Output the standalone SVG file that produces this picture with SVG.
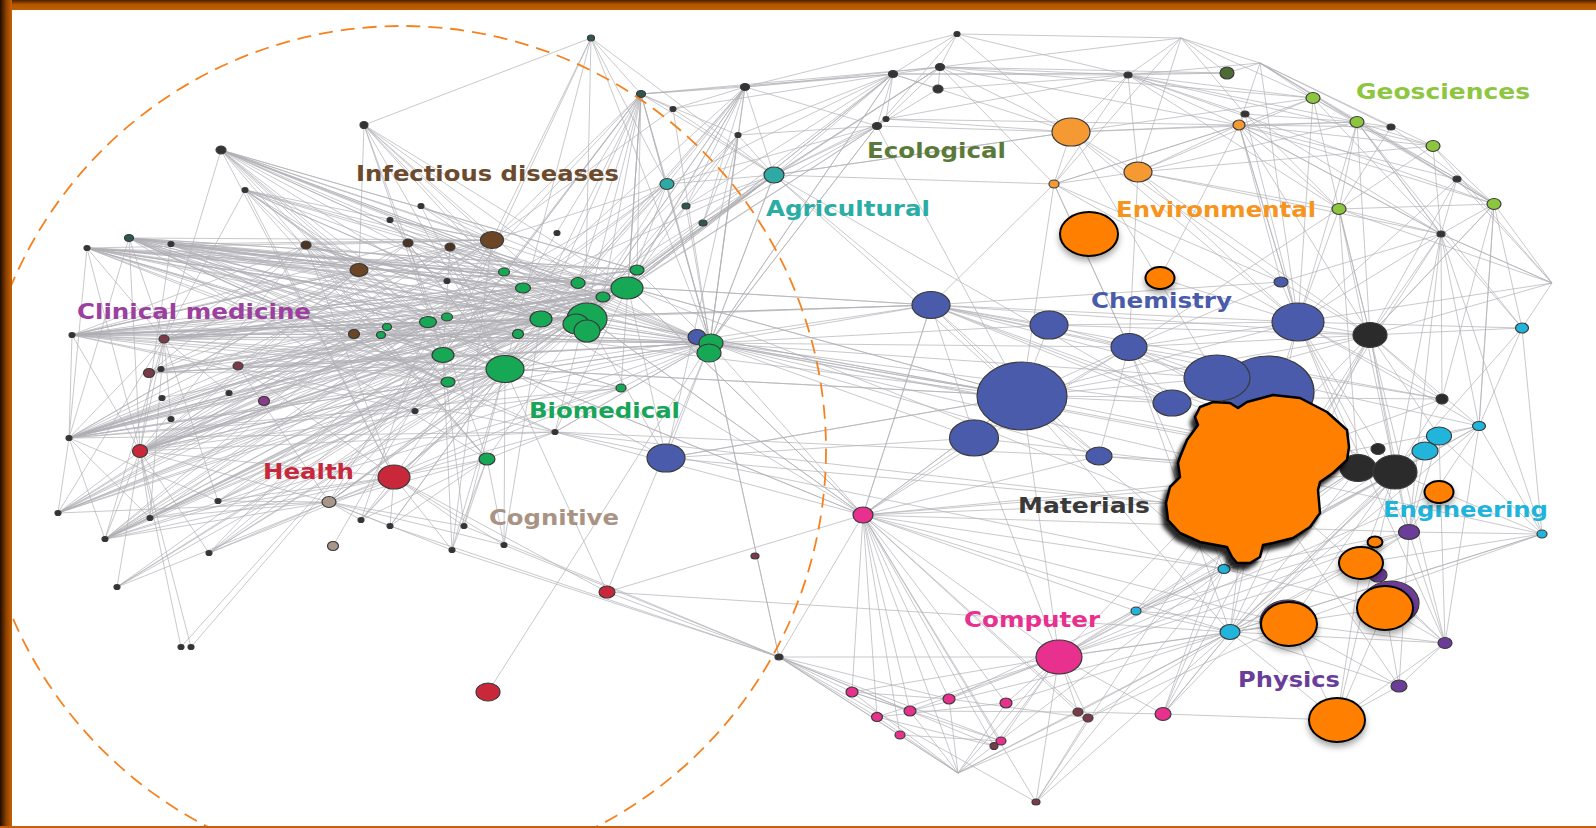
<svg xmlns="http://www.w3.org/2000/svg" width="1596" height="828" viewBox="0 0 1596 828">
<defs>
<linearGradient id="tg" x1="0" y1="0" x2="0" y2="1"><stop offset="0" stop-color="#4a2000"/><stop offset="0.45" stop-color="#b45500"/><stop offset="1" stop-color="#c25e00"/></linearGradient>
<linearGradient id="lg" x1="0" y1="0" x2="1" y2="0"><stop offset="0" stop-color="#1e0c00"/><stop offset="0.5" stop-color="#8a3f00"/><stop offset="1" stop-color="#c86200"/></linearGradient>
<filter id="sh" x="-40%" y="-40%" width="180%" height="190%"><feDropShadow dx="0" dy="4" stdDeviation="3" flood-color="#000" flood-opacity="0.35"/></filter>
<filter id="bsh" x="-20%" y="-20%" width="140%" height="140%"><feDropShadow dx="-4" dy="6" stdDeviation="2" flood-color="#000" flood-opacity="0.85"/></filter>
<style>
.e{fill:none;stroke:#aeaeb4;stroke-width:0.9;opacity:0.75}
ellipse{stroke:#3a3a3a;stroke-width:1.2}
.k{fill:#343434}.dt{fill:#2e5752}.br{fill:#6b4526}.bd{fill:#4a3424}.g{fill:#17a856}.b{fill:#4a5bab}
.r{fill:#c8283a}.m{fill:#e8308e}.c{fill:#22b5dc}.p{fill:#6c3d98}.lg{fill:#8cc63f}.dg{fill:#4d6b36}
.lo{fill:#f59a33}.bk{fill:#2b2b2b}.t{fill:#2ea9a3}.tp{fill:#a8968a}.pr{fill:#7a3a4a}.pu{fill:#8a3a8a}
.o{fill:#ff8000;stroke:#000;stroke-width:2;filter:url(#sh)}
text{font-family:"DejaVu Sans","Liberation Sans",sans-serif;font-weight:bold;font-size:21px}
</style>
</defs>
<rect width="1596" height="828" fill="#fff"/>
<g id="connectors">
<path class="e" d="M505 369 221 150M505 369 245 190M505 369 129 238M505 369 87 248M505 369 171 244M505 369 306 245M505 369 72 335M505 369 164 339M505 369 149 373M505 369 238 366M505 369 69 438M505 369 140 451M505 369 58 513M505 369 105 539M505 369 117 587M505 369 209 553M505 369 150 518M505 369 218 501M505 369 329 502M505 369 361 520M505 369 390 526M505 369 452 550M505 369 504 545M505 369 464 526M505 369 591 38M505 369 364 125M505 369 774 175M505 369 666 458M505 369 863 515M505 369 607 592M505 369 421 206M505 369 390 220"/>
<path class="e" d="M585 316 364 125M585 316 221 150M585 316 129 238M585 316 87 248M585 316 171 244M585 316 306 245M585 316 72 335M585 316 164 339M585 316 149 373M585 316 162 398M585 316 69 438M585 316 140 451M585 316 58 513M585 316 105 539M585 316 218 501M585 316 329 502M585 316 394 477M585 316 487 459M585 316 555 432M585 316 591 38M585 316 641 94M585 316 745 87M585 316 774 175M585 316 686 206M585 316 703 223M585 316 863 515M585 316 931 305M585 316 1022 396M585 316 666 458M585 316 421 206M585 316 245 190"/>
<path class="e" d="M492 240 364 125M492 240 221 150M492 240 245 190M492 240 129 238M492 240 87 248M492 240 171 244M492 240 306 245M492 240 72 335M492 240 164 339M492 240 149 373M492 240 140 451M492 240 105 539M492 240 58 513M492 240 329 502M492 240 452 550M492 240 591 38M492 240 641 94M492 240 673 109M492 240 421 206M492 240 390 220"/>
<path class="e" d="M628 287 221 150M628 287 171 244M628 287 129 238M628 287 87 248M628 287 72 335M628 287 164 339M628 287 238 366M628 287 149 373M628 287 69 438M628 287 140 451M628 287 105 539M628 287 209 553M628 287 329 502M628 287 394 477M628 287 641 94M628 287 745 87M628 287 877 126M628 287 893 74M628 287 774 175M628 287 931 305M628 287 666 458M628 287 863 515M628 287 364 125M628 287 1022 396"/>
<path class="e" d="M541 319 245 190M541 319 129 238M541 319 306 245M541 319 72 335M541 319 164 339M541 319 238 366M541 319 161 369M541 319 229 393M541 319 69 438M541 319 58 513M541 319 150 518M541 319 117 587M541 319 218 501M541 319 361 520M541 319 390 526M541 319 504 545M541 319 221 150M541 319 87 248"/>
<path class="e" d="M443 355 364 125M443 355 221 150M443 355 87 248M443 355 129 238M443 355 72 335M443 355 149 373M443 355 69 438M443 355 140 451M443 355 58 513M443 355 105 539M443 355 117 587M443 355 181 647M443 355 191 647M443 355 209 553M443 355 333 546M443 355 464 526M443 355 452 550M443 355 591 38M443 355 641 94"/>
<path class="e" d="M428 322 221 150M428 322 245 190M428 322 171 244M428 322 87 248M428 322 72 335M428 322 164 339M428 322 140 451M428 322 58 513M428 322 105 539M428 322 150 518M428 322 209 553M428 322 361 520M428 322 667 184"/>
<path class="e" d="M523 288 87 248M523 288 129 238M523 288 171 244M523 288 72 335M523 288 69 438M523 288 140 451M523 288 58 513M523 288 105 539M523 288 164 339M523 288 149 373M523 288 238 366M523 288 218 501M523 288 329 502M523 288 394 477M523 288 710 343M523 288 667 184M523 288 774 175M523 288 641 94M523 288 745 87M523 288 221 150M523 288 364 125"/>
<path class="e" d="M603 297 129 238M603 297 87 248M603 297 72 335M603 297 69 438M603 297 140 451M603 297 105 539M603 297 164 339M603 297 238 366M603 297 329 502M603 297 394 477M603 297 710 343M603 297 774 175M603 297 641 94M603 297 703 223M603 297 686 206M603 297 221 150M603 297 171 244"/>
<path class="e" d="M518 334 72 335M518 334 87 248M518 334 129 238M518 334 69 438M518 334 140 451M518 334 58 513M518 334 150 518M518 334 209 553M518 334 105 539M518 334 710 343M518 334 1022 396M578 283 87 248M578 283 129 238M578 283 72 335M578 283 69 438M578 283 140 451M578 283 105 539M578 283 164 339M578 283 149 373M578 283 710 343M578 283 745 87M578 283 641 94M578 283 221 150M578 283 245 190"/>
<path class="e" d="M504 272 87 248M504 272 129 238M504 272 171 244M504 272 72 335M504 272 69 438M504 272 140 451M504 272 58 513M504 272 164 339M504 272 710 343M504 272 641 94M504 272 221 150M637 270 129 238M637 270 87 248M637 270 72 335M637 270 140 451M637 270 164 339M637 270 710 343M637 270 745 87M637 270 641 94M637 270 893 74M637 270 221 150"/>
<path class="e" d="M448 382 72 335M448 382 87 248M448 382 129 238M448 382 69 438M448 382 140 451M448 382 58 513M448 382 105 539M448 382 117 587M448 382 710 343M448 382 628 287M448 382 221 150M448 382 245 190M621 388 72 335M621 388 129 238M621 388 69 438M621 388 140 451M621 388 105 539M621 388 209 553M621 388 710 343M621 388 641 94"/>
<path class="e" d="M447 317 72 335M447 317 87 248M447 317 129 238M447 317 69 438M447 317 140 451M447 317 105 539M447 317 710 343M447 317 628 287M354 334 72 335M354 334 87 248M354 334 129 238M354 334 69 438M354 334 140 451M354 334 58 513M354 334 105 539M354 334 710 343M354 334 628 287M354 334 585 316"/>
<path class="e" d="M408 243 710 343M408 243 628 287M408 243 585 316M408 243 541 319M408 243 505 369M408 243 443 355M408 243 72 335M408 243 69 438M408 243 140 451M450 247 710 343M450 247 628 287M450 247 585 316M450 247 541 319M450 247 505 369M450 247 443 355M450 247 72 335M450 247 69 438M450 247 140 451"/>
<path class="e" d="M306 245 585 316M306 245 628 287M306 245 710 343M306 245 541 319M306 245 443 355M306 245 72 335M306 245 149 373M387 327 710 343M387 327 628 287M387 327 585 316M387 327 72 335M387 327 69 438M387 327 140 451M555 432 72 335M555 432 69 438M555 432 140 451M555 432 129 238M555 432 87 248M555 432 628 287M555 432 710 343M415 411 628 287M415 411 710 343M415 411 585 316M415 411 72 335M415 411 69 438"/>
<path class="e" d="M221 150 637 270M221 150 578 283M221 150 603 297M221 150 518 334M245 190 628 287M245 190 603 297M245 190 541 319M245 190 447 317M171 244 628 287M171 244 541 319M171 244 443 355M171 244 448 382M129 238 637 270M129 238 448 382M129 238 621 388M87 248 443 355M87 248 710 343M72 335 637 270M72 335 541 319M72 335 428 322M69 438 628 287M69 438 541 319M69 438 428 322M140 451 541 319M140 451 603 297M164 339 603 297M164 339 518 334M238 366 585 316M238 366 710 343M149 373 603 297M149 373 710 343M381 335 710 343M381 335 585 316M381 335 129 238M381 335 69 438M421 206 628 287M390 220 603 297M364 125 541 319M364 125 603 297"/>
<path class="e" d="M710 343 591 38M710 343 641 94M710 343 673 109M710 343 745 87M710 343 738 135M710 343 877 126M710 343 893 74M710 343 774 175M710 343 686 206M710 343 221 150M710 343 129 238M710 343 72 335M710 343 87 248M710 343 164 339M710 343 149 373M710 343 69 438M710 343 140 451M710 343 105 539M710 343 329 502M710 343 555 432M710 343 666 458M710 343 863 515M710 343 931 305M710 343 1022 396M710 343 1172 403M710 343 1217 378M710 343 1129 347M710 343 975 438M710 343 607 592M710 343 779 657M710 343 1358 468M710 343 1395 472M710 343 1099 456M710 343 1049 325M710 343 1250 470M710 343 488 692"/>
<path class="e" d="M359 270 221 150M359 270 245 190M359 270 364 125M359 270 129 238M359 270 87 248M359 270 171 244M359 270 306 245M359 270 72 335M359 270 164 339M359 270 149 373M359 270 238 366M359 270 140 451M359 270 69 438"/>
<path class="e" d="M164 339 87 248M164 339 129 238M164 339 72 335M164 339 69 438M164 339 140 451M164 339 58 513M164 339 105 539M164 339 150 518M164 339 218 501M164 339 229 393M164 339 171 419M164 339 245 190M164 339 221 150M164 339 306 245"/>
<path class="e" d="M69 438 129 238M69 438 87 248M69 438 72 335M69 438 58 513M69 438 105 539M69 438 150 518M69 438 218 501M69 438 238 366"/>
<path class="e" d="M140 451 87 248M140 451 129 238M140 451 171 244M140 451 72 335M140 451 58 513M140 451 105 539M140 451 117 587M140 451 150 518M140 451 209 553M140 451 191 647M140 451 181 647M140 451 229 393M140 451 329 502M140 451 394 477M140 451 306 245"/>
<path class="e" d="M394 477 306 245M394 477 245 190M394 477 238 366M394 477 329 502M394 477 361 520M394 477 390 526M394 477 464 526M394 477 452 550M394 477 504 545M394 477 487 459M394 477 218 501M394 477 150 518M394 477 105 539M394 477 555 432M394 477 607 592M394 477 221 150"/>
<path class="e" d="M487 459 504 545M487 459 464 526M487 459 452 550M487 459 390 526M487 459 361 520M487 459 329 502M487 459 555 432M487 459 306 245M487 459 245 190M487 459 221 150M487 459 364 125M487 459 129 238"/>
<path class="e" d="M329 502 209 553M329 502 150 518M329 502 105 539M329 502 58 513M329 502 218 501M329 502 361 520M329 502 390 526M329 502 452 550M329 502 464 526M329 502 504 545M329 502 117 587M329 502 238 366M591 38 364 125M591 38 641 94"/>
<path class="e" d="M779 657 607 592M779 657 452 550M779 657 504 545M779 657 464 526M779 657 390 526M779 657 863 515M779 657 710 343M779 657 852 692M779 657 877 717M779 657 900 735M779 657 910 711M779 657 949 699M779 657 1001 741M779 657 994 746M779 657 958 773M779 657 1036 802M779 657 1059 657"/>
<path class="e" d="M863 515 852 692M863 515 877 717M863 515 910 711M863 515 949 699M863 515 1006 703M863 515 900 735M863 515 1001 741M863 515 994 746M863 515 1078 712M863 515 1088 718M863 515 958 773M863 515 1059 657M863 515 1036 802M863 515 555 432M863 515 505 369M863 515 628 287M863 515 585 316M863 515 541 319M863 515 607 592M863 515 1022 396M863 515 975 438M863 515 931 305M863 515 1170 503M863 515 1230 632M863 515 1224 569M863 515 1136 611M863 515 1289 624M863 515 1358 468M863 515 1395 472M863 515 1409 532M863 515 1099 456M863 515 1129 347"/>
<path class="e" d="M1059 657 852 692M1059 657 877 717M1059 657 910 711M1059 657 949 699M1059 657 1006 703M1059 657 994 746M1059 657 1001 741M1059 657 1078 712M1059 657 1088 718M1059 657 1163 714M1059 657 1230 632M1059 657 1224 569M1059 657 1136 611M1059 657 1289 624M1059 657 1361 563M1059 657 1409 532M1059 657 1439 492M1059 657 1036 802M1059 657 1358 468M1059 657 1395 472M1059 657 975 438"/>
<path class="e" d="M958 773 852 692M958 773 877 717M958 773 900 735M958 773 910 711M958 773 1006 703M958 773 1059 657M958 773 1078 712M958 773 1230 632M958 773 1224 569M958 773 949 699M958 773 1088 718M852 692 910 711M852 692 949 699M877 717 1006 703M910 711 1078 712M949 699 1088 718M900 735 1001 741M852 692 1001 741M877 717 994 746M1078 712 1163 714M1088 718 1036 802M1006 703 1230 632M1088 718 1289 624M1163 714 1230 632M1163 714 1337 720M1036 802 1230 632M1036 802 1224 569M910 711 1230 632M949 699 1224 569"/>
<path class="e" d="M1022 396 931 305M1022 396 1049 325M1022 396 1129 347M1022 396 975 438M1022 396 1099 456M1022 396 710 343M1022 396 585 316M1022 396 628 287M1022 396 863 515M1022 396 1172 403M1022 396 1217 378M1022 396 1298 322M1022 396 1370 335M1022 396 1395 472M1022 396 1442 399M1022 396 1059 657M1022 396 1230 632M1022 396 1224 569M1022 396 1054 184M1022 396 505 369M1022 396 666 458"/>
<path class="e" d="M931 305 628 287M931 305 585 316M931 305 1049 325M931 305 1129 347M931 305 975 438M931 305 1099 456M931 305 1054 184M931 305 774 175M931 305 1172 403M931 305 1217 378M931 305 1298 322M931 305 1370 335M931 305 1358 468M931 305 1395 472M931 305 1442 399M931 305 863 515M931 305 505 369M931 305 1479 426M931 305 1281 282"/>
<path class="e" d="M1129 347 1049 325M1129 347 1099 456M1129 347 1172 403M1129 347 1217 378M1129 347 1298 322M1129 347 1281 282M1129 347 1370 335M1129 347 1358 468M1129 347 1395 472M1129 347 1442 399M1129 347 1224 569M1129 347 1230 632M1129 347 1054 184M1129 347 975 438M1129 347 1138 172"/>
<path class="e" d="M1298 322 1281 282M1298 322 1245 114M1298 322 1239 125M1298 322 1313 98M1298 322 1339 209M1298 322 1441 234M1298 322 1457 179M1298 322 1522 328M1298 322 1370 335M1298 322 1442 399M1298 322 1395 472M1298 322 1358 468M1298 322 1479 426M1298 322 1409 532M1298 322 1224 569M1298 322 1230 632M1298 322 1049 325M1298 322 1160 278M1298 322 1071 132M1298 322 1138 172"/>
<path class="e" d="M1370 335 1281 282M1370 335 1441 234M1370 335 1457 179M1370 335 1339 209M1370 335 1494 204M1370 335 1522 328M1370 335 1442 399M1370 335 1479 426M1370 335 1439 436M1370 335 1395 472M1370 335 1224 569M1370 335 1230 632M1370 335 1163 714M1370 335 1059 657M1370 335 1409 532M1370 335 1445 643M1370 335 1217 378M1370 335 1049 325"/>
<path class="e" d="M1441 234 1494 204M1441 234 1457 179M1441 234 1433 146M1441 234 1339 209M1441 234 1313 98M1441 234 1245 114M1441 234 1522 328M1441 234 1442 399M1441 234 1479 426M1441 234 1409 532M1441 234 1224 569M1441 234 1281 282M1441 234 1239 125M1441 234 1552 283M1441 234 1357 122M1441 234 1395 472"/>
<path class="e" d="M893 74 957 34M893 74 940 67M893 74 938 89M893 74 745 87M893 74 641 94M893 74 673 109M893 74 738 135M893 74 886 119M893 74 877 126M893 74 774 175M893 74 686 206M893 74 1128 75M893 74 1071 132M893 74 1227 73M893 74 710 343M893 74 628 287"/>
<path class="e" d="M940 67 957 34M940 67 745 87M940 67 641 94M940 67 1128 75M940 67 1181 38M940 67 1071 132M940 67 1313 98M940 67 1227 73M940 67 886 119M940 67 774 175M940 67 703 223M940 67 938 89M940 67 1054 184M957 34 1128 75M957 34 745 87M957 34 1071 132M957 34 877 126M957 34 1181 38"/>
<path class="e" d="M1128 75 1181 38M1128 75 1227 73M1128 75 1260 63M1128 75 1245 114M1128 75 1239 125M1128 75 1313 98M1128 75 1357 122M1128 75 1071 132M1128 75 1138 172M1128 75 1054 184M1128 75 1433 146M1128 75 1494 204M1128 75 1339 209M1128 75 938 89M1128 75 886 119M1181 38 1260 63M1181 38 1227 73M1181 38 1138 172M1181 38 1313 98M1181 38 1054 184M1181 38 1245 114"/>
<path class="e" d="M1260 63 1313 98M1260 63 1357 122M1260 63 1433 146M1260 63 1494 204M1260 63 1391 127M1260 63 1457 179M1260 63 1239 125M1260 63 1298 322M1260 63 1227 73"/>
<path class="e" d="M1239 125 1313 98M1239 125 1357 122M1239 125 1391 127M1239 125 1433 146M1239 125 1457 179M1239 125 1494 204M1239 125 1339 209M1239 125 1441 234M1239 125 1298 322M1239 125 1281 282M1239 125 1054 184M1239 125 1071 132M1239 125 1138 172M1239 125 886 119M1239 125 940 67M1239 125 1160 278M1239 125 1370 335M1239 125 1245 114"/>
<path class="e" d="M1357 122 1433 146M1357 122 1494 204M1357 122 1457 179M1357 122 1391 127M1357 122 1339 209M1357 122 1441 234M1357 122 1522 328M1357 122 1370 335M1357 122 1298 322M1357 122 1071 132M1357 122 1138 172M1357 122 1245 114M1357 122 1313 98"/>
<path class="e" d="M1494 204 1433 146M1494 204 1457 179M1494 204 1552 283M1494 204 1522 328M1494 204 1339 209M1494 204 1370 335M1494 204 1442 399M1494 204 1479 426M1494 204 1391 127M1494 204 1313 98M1552 283 1441 234M1552 283 1457 179M1552 283 1522 328M1552 283 1339 209M1552 283 1298 322M1552 283 1370 335M1552 283 1433 146"/>
<path class="e" d="M1339 209 1313 98M1339 209 1391 127M1339 209 1370 335M1339 209 1395 472M1339 209 1358 468M1339 209 1129 347M1339 209 1433 146M1339 209 1245 114M1054 184 1071 132M1054 184 1138 172M1054 184 774 175M1054 184 1298 322M1054 184 1281 282M1054 184 1239 125M1054 184 1129 347M1071 132 877 126M1071 132 1138 172M1071 132 1217 378M1071 132 1281 282M1071 132 774 175M1071 132 1313 98M1071 132 886 119M1138 172 1339 209M1138 172 1441 234M1138 172 1370 335M1138 172 1313 98M1138 172 1433 146"/>
<path class="e" d="M774 175 591 38M774 175 641 94M774 175 673 109M774 175 745 87M774 175 738 135M774 175 940 67M774 175 877 126M774 175 886 119M774 175 1071 132M774 175 710 343M774 175 585 316M774 175 628 287M774 175 667 184M774 175 686 206M774 175 703 223M774 175 1022 396M774 175 1172 403M774 175 505 369M774 175 541 319"/>
<path class="e" d="M667 184 591 38M667 184 641 94M667 184 745 87M667 184 893 74M667 184 877 126M667 184 710 343M667 184 585 316M667 184 628 287M667 184 505 369M667 184 492 240M667 184 443 355M667 184 541 319M641 94 673 109M641 94 745 87M641 94 738 135M641 94 505 369M641 94 541 319M641 94 628 287M641 94 443 355M641 94 710 343M641 94 428 322"/>
<path class="e" d="M738 135 745 87M738 135 877 126M738 135 710 343M738 135 628 287M738 135 585 316M738 135 505 369M738 135 666 458M738 135 703 223M877 126 745 87M877 126 710 343M877 126 938 89M877 126 585 316M877 126 1022 396M877 126 886 119M877 126 703 223M745 87 673 109M745 87 703 223M745 87 686 206M745 87 585 316M745 87 541 319"/>
<path class="e" d="M1445 643 1385 608M1445 643 1409 532M1445 643 1337 720M1445 643 1399 686M1445 643 1289 624M1445 643 1361 563M1445 643 1479 426M1445 643 1439 436M1445 643 1298 322M1445 643 1230 632M1399 686 1337 720M1399 686 1385 608M1399 686 1289 624M1399 686 1409 532M1399 686 1230 632"/>
<path class="e" d="M1409 532 1542 534M1409 532 1479 426M1409 532 1439 436M1409 532 1425 451M1409 532 1361 563M1409 532 1230 632M1409 532 1224 569M1409 532 1136 611M1409 532 1395 472M1542 534 1479 426M1542 534 1439 436M1542 534 1361 563M1542 534 1230 632M1542 534 1395 472M1542 534 1522 328M1542 534 1441 234M1542 534 1289 624M1479 426 1522 328M1479 426 1494 204M1479 426 1439 436M1479 426 1230 632M1479 426 1224 569"/>
<path class="e" d="M1230 632 1163 714M1230 632 1136 611M1230 632 1088 718M1230 632 1078 712M1230 632 1289 624M1230 632 1337 720M1230 632 1385 608M1230 632 1361 563M1230 632 1395 472M1230 632 1358 468M1230 632 1439 436M1230 632 1425 451M1230 632 1542 534M1230 632 607 592M1230 632 1250 470M1224 569 1136 611M1224 569 1163 714M1224 569 1395 472M1224 569 1439 436M1224 569 1385 608M1224 569 1358 468M1224 569 555 432M1136 611 1395 472M1136 611 1358 468M1136 611 1289 624"/>
<path class="e" d="M1395 472 1442 399M1395 472 1479 426M1395 472 1522 328M1395 472 1289 624M1395 472 1337 720M1395 472 1361 563M1395 472 1163 714M1337 720 1289 624M1337 720 1361 563M1337 720 1385 608M555 432 1170 503M628 287 1170 503M666 458 1170 503M505 369 1022 396M541 319 931 305M555 432 1358 468M666 458 975 438M666 458 1022 396M1250 470 1099 456M1250 470 975 438M1250 470 1136 611M1250 470 1163 714M1250 470 1036 802M1250 470 1442 399M1250 470 1479 426M1250 470 1542 534M1250 470 1445 643M1250 470 1399 686"/>
</g>
<g id="nodes">
<g id="n-left">
<ellipse class="dt" cx="591" cy="38" rx="3.5" ry="3"/>
<ellipse class="k" cx="364" cy="125" rx="4" ry="3.5"/>
<ellipse class="k" cx="221" cy="150" rx="5" ry="4"/>
<ellipse class="k" cx="245" cy="190" rx="3" ry="2.5"/>
<ellipse class="k" cx="421" cy="206" rx="3" ry="2.5"/>
<ellipse class="k" cx="390" cy="220" rx="3" ry="2.5"/>
<ellipse class="dt" cx="129" cy="238" rx="4.5" ry="3.5"/>
<ellipse class="k" cx="87" cy="248" rx="3" ry="2.5"/>
<ellipse class="k" cx="171" cy="244" rx="3" ry="2.5"/>
<ellipse class="bd" cx="306" cy="245" rx="5" ry="4"/>
<ellipse class="bd" cx="408" cy="243" rx="5" ry="4"/>
<ellipse class="bd" cx="450" cy="247" rx="5" ry="4"/>
<ellipse class="br" cx="492" cy="240" rx="11.5" ry="8.5"/>
<ellipse class="k" cx="557" cy="233" rx="3" ry="2.5"/>
<ellipse class="br" cx="359" cy="270" rx="9" ry="6.5"/>
<ellipse class="k" cx="447" cy="281" rx="3" ry="2.5"/>
<ellipse class="br" cx="354" cy="334" rx="5.5" ry="4.5"/>
<ellipse class="pr" cx="164" cy="339" rx="5" ry="4"/>
<ellipse class="k" cx="72" cy="335" rx="3" ry="2.5"/>
<ellipse class="pr" cx="238" cy="366" rx="5" ry="4"/>
<ellipse class="pr" cx="149" cy="373" rx="5.5" ry="4.5"/>
<ellipse class="k" cx="161" cy="369" rx="3" ry="2.5"/>
<ellipse class="k" cx="229" cy="393" rx="3" ry="2.5"/>
<ellipse class="k" cx="162" cy="398" rx="3" ry="2.5"/>
<ellipse class="pu" cx="264" cy="401" rx="5.5" ry="4.5"/>
<ellipse class="k" cx="415" cy="411" rx="3" ry="2.5"/>
<ellipse class="k" cx="555" cy="432" rx="3" ry="2.5"/>
<ellipse class="k" cx="69" cy="438" rx="3" ry="2.5"/>
<ellipse class="r" cx="140" cy="451" rx="7.5" ry="6.5"/>
<ellipse class="k" cx="171" cy="419" rx="3" ry="2.5"/>
<ellipse class="r" cx="394" cy="477" rx="16" ry="12"/>
<ellipse class="tp" cx="329" cy="502" rx="7" ry="5.5"/>
<ellipse class="tp" cx="333" cy="546" rx="5.5" ry="4.5"/>
<ellipse class="k" cx="218" cy="501" rx="3" ry="2.5"/>
<ellipse class="k" cx="58" cy="513" rx="3" ry="2.5"/>
<ellipse class="k" cx="150" cy="518" rx="3" ry="2.5"/>
<ellipse class="k" cx="105" cy="539" rx="3" ry="2.5"/>
<ellipse class="k" cx="209" cy="553" rx="3" ry="2.5"/>
<ellipse class="k" cx="117" cy="587" rx="3" ry="2.5"/>
<ellipse class="k" cx="181" cy="647" rx="3" ry="2.5"/>
<ellipse class="k" cx="191" cy="647" rx="3" ry="2.5"/>
<ellipse class="k" cx="361" cy="520" rx="3" ry="2.5"/>
<ellipse class="k" cx="390" cy="526" rx="3" ry="2.5"/>
<ellipse class="k" cx="464" cy="526" rx="3" ry="2.5"/>
<ellipse class="k" cx="452" cy="550" rx="3" ry="2.5"/>
<ellipse class="k" cx="504" cy="545" rx="3" ry="2.5"/>
<ellipse class="r" cx="488" cy="692" rx="12" ry="9"/>
<ellipse class="r" cx="607" cy="592" rx="8" ry="6"/>
<ellipse class="pr" cx="755" cy="556" rx="4" ry="3"/>
<ellipse class="k" cx="779" cy="657" rx="4" ry="3"/>
</g>
<g id="n-bio">
<ellipse class="b" cx="697" cy="337" rx="9" ry="7.5"/>
<ellipse class="g" cx="504" cy="272" rx="5.5" ry="4"/>
<ellipse class="g" cx="523" cy="288" rx="7.5" ry="5"/>
<ellipse class="g" cx="578" cy="283" rx="7" ry="5.5"/>
<ellipse class="g" cx="637" cy="270" rx="7" ry="5"/>
<ellipse class="g" cx="627" cy="288" rx="16" ry="11"/>
<ellipse class="g" cx="603" cy="297" rx="7" ry="5"/>
<ellipse class="g" cx="428" cy="322" rx="8.5" ry="5.5"/>
<ellipse class="g" cx="447" cy="317" rx="5.5" ry="4"/>
<ellipse class="g" cx="387" cy="327" rx="4.5" ry="3.5"/>
<ellipse class="g" cx="381" cy="335" rx="4.5" ry="3.5"/>
<ellipse class="g" cx="541" cy="319" rx="11" ry="8"/>
<ellipse class="g" cx="587" cy="319" rx="20" ry="16"/>
<ellipse class="g" cx="576" cy="324" rx="13" ry="10"/>
<ellipse class="g" cx="587" cy="331" rx="13" ry="11"/>
<ellipse class="g" cx="518" cy="334" rx="5.5" ry="4.5"/>
<ellipse class="g" cx="443" cy="355" rx="11" ry="7.5"/>
<ellipse class="g" cx="505" cy="369" rx="19" ry="13.5"/>
<ellipse class="g" cx="448" cy="382" rx="7" ry="5"/>
<ellipse class="g" cx="621" cy="388" rx="5" ry="4"/>
<ellipse class="g" cx="711" cy="343" rx="12" ry="9"/>
<ellipse class="g" cx="709" cy="353" rx="12" ry="9"/>
<ellipse class="g" cx="487" cy="459" rx="8" ry="6"/>
<ellipse class="b" cx="666" cy="458" rx="19" ry="14"/>
</g>
<g id="n-top">
<ellipse class="dt" cx="641" cy="94" rx="4.5" ry="3.5"/>
<ellipse class="k" cx="673" cy="109" rx="3" ry="2.5"/>
<ellipse class="k" cx="738" cy="135" rx="3" ry="2.5"/>
<ellipse class="k" cx="745" cy="87" rx="4.5" ry="3.5"/>
<ellipse class="k" cx="893" cy="74" rx="4.5" ry="3.5"/>
<ellipse class="k" cx="940" cy="67" rx="4.5" ry="3.5"/>
<ellipse class="k" cx="938" cy="89" rx="5" ry="4"/>
<ellipse class="k" cx="957" cy="34" rx="3" ry="2.5"/>
<ellipse class="k" cx="886" cy="119" rx="3" ry="2.5"/>
<ellipse class="k" cx="877" cy="126" rx="4.5" ry="3.5"/>
<ellipse class="t" cx="667" cy="184" rx="7" ry="5.5"/>
<ellipse class="dt" cx="686" cy="206" rx="4" ry="3"/>
<ellipse class="dt" cx="703" cy="223" rx="4" ry="3"/>
<ellipse class="t" cx="774" cy="175" rx="10" ry="8"/>
<ellipse class="k" cx="1128" cy="75" rx="4" ry="3"/>
<ellipse class="dg" cx="1227" cy="73" rx="7" ry="6"/>
<ellipse class="k" cx="1245" cy="114" rx="4" ry="3"/>
<ellipse class="lo" cx="1239" cy="125" rx="6" ry="5"/>
<ellipse class="lg" cx="1313" cy="98" rx="7" ry="5.5"/>
<ellipse class="lg" cx="1357" cy="122" rx="7" ry="5.5"/>
<ellipse class="k" cx="1391" cy="127" rx="4" ry="3"/>
<ellipse class="lg" cx="1433" cy="146" rx="7" ry="5.5"/>
<ellipse class="k" cx="1457" cy="179" rx="4" ry="3"/>
<ellipse class="lg" cx="1494" cy="204" rx="7" ry="5.5"/>
<ellipse class="lg" cx="1339" cy="209" rx="7" ry="5.5"/>
<ellipse class="k" cx="1441" cy="234" rx="4" ry="3"/>
<ellipse class="lo" cx="1071" cy="132" rx="19" ry="14"/>
<ellipse class="lo" cx="1138" cy="172" rx="14" ry="10"/>
<ellipse class="lo" cx="1054" cy="184" rx="5" ry="4"/>
</g>
<g id="n-chem">
<ellipse class="b" cx="1281" cy="282" rx="7" ry="5"/>
<ellipse class="b" cx="931" cy="305" rx="19" ry="13.5"/>
<ellipse class="b" cx="1049" cy="325" rx="19" ry="14"/>
<ellipse class="b" cx="1129" cy="347" rx="18" ry="13.5"/>
<ellipse class="b" cx="1022" cy="396" rx="45" ry="34"/>
<ellipse class="b" cx="974" cy="438" rx="24.5" ry="18"/>
<ellipse class="b" cx="1099" cy="456" rx="13" ry="9"/>
<ellipse class="b" cx="1268" cy="392" rx="46" ry="36"/>
<ellipse class="b" cx="1217" cy="378" rx="33" ry="23"/>
<ellipse class="b" cx="1172" cy="403" rx="19" ry="13"/>
<ellipse class="b" cx="1298" cy="322" rx="26" ry="19"/>
</g>
<g id="n-eng">
<ellipse class="bk" cx="1370" cy="335" rx="17" ry="12.5"/>
<ellipse class="bk" cx="1442" cy="399" rx="6" ry="5"/>
<ellipse class="bk" cx="1378" cy="449" rx="7" ry="5.5"/>
<ellipse class="bk" cx="1358" cy="468" rx="18" ry="13.5"/>
<ellipse class="bk" cx="1395" cy="472" rx="22" ry="17"/>
<ellipse class="c" cx="1522" cy="328" rx="6.5" ry="5"/>
<ellipse class="c" cx="1479" cy="426" rx="6.5" ry="4.5"/>
<ellipse class="c" cx="1439" cy="436" rx="12.5" ry="9"/>
<ellipse class="c" cx="1425" cy="451" rx="13" ry="9"/>
<ellipse class="c" cx="1542" cy="534" rx="5" ry="4"/>
<ellipse class="c" cx="1224" cy="569" rx="6" ry="4.5"/>
<ellipse class="c" cx="1136" cy="611" rx="5" ry="4"/>
<ellipse class="c" cx="1230" cy="632" rx="10" ry="7.5"/>
</g>
<g id="n-phys">
<ellipse class="p" cx="1409" cy="532" rx="10.5" ry="7.5"/>
<ellipse class="p" cx="1378" cy="575" rx="9" ry="7"/>
<ellipse class="p" cx="1391" cy="603" rx="28" ry="22"/>
<ellipse class="p" cx="1288" cy="622" rx="28" ry="22"/>
<ellipse class="p" cx="1445" cy="643" rx="7" ry="5.5"/>
<ellipse class="p" cx="1399" cy="686" rx="8" ry="6"/>
</g>
<g id="n-comp">
<ellipse class="m" cx="863" cy="515" rx="10" ry="8"/>
<ellipse class="m" cx="1059" cy="657" rx="23" ry="17"/>
<ellipse class="m" cx="852" cy="692" rx="6" ry="5"/>
<ellipse class="m" cx="877" cy="717" rx="5.5" ry="4.5"/>
<ellipse class="m" cx="910" cy="711" rx="6" ry="5"/>
<ellipse class="m" cx="949" cy="699" rx="6" ry="5"/>
<ellipse class="m" cx="1006" cy="703" rx="6" ry="5"/>
<ellipse class="m" cx="900" cy="735" rx="5" ry="4"/>
<ellipse class="m" cx="1001" cy="741" rx="5" ry="4"/>
<ellipse class="pr" cx="994" cy="746" rx="4" ry="3.5"/>
<ellipse class="pr" cx="1078" cy="712" rx="5" ry="4"/>
<ellipse class="pr" cx="1088" cy="718" rx="5" ry="4"/>
<ellipse class="m" cx="1163" cy="714" rx="8" ry="6.5"/>
<ellipse class="pr" cx="1036" cy="802" rx="4" ry="3"/>
</g>
</g>
<g id="labels">
<text x="356" y="181" fill="#6b4a2e" textLength="263" lengthAdjust="spacingAndGlyphs">Infectious diseases</text>
<text x="77" y="319" fill="#9c3f9e" textLength="234" lengthAdjust="spacingAndGlyphs">Clinical medicine</text>
<text x="867" y="158" fill="#5b7a39" textLength="139" lengthAdjust="spacingAndGlyphs">Ecological</text>
<text x="766" y="216" fill="#2aada5" textLength="164" lengthAdjust="spacingAndGlyphs">Agricultural</text>
<text x="1356" y="99" fill="#8dc63f" textLength="174" lengthAdjust="spacingAndGlyphs">Geosciences</text>
<text x="1116" y="217" fill="#f7941d" textLength="200" lengthAdjust="spacingAndGlyphs">Environmental</text>
<text x="1091" y="308" fill="#4a5bab" textLength="141" lengthAdjust="spacingAndGlyphs">Chemistry</text>
<text x="529" y="418" fill="#18a558" textLength="151" lengthAdjust="spacingAndGlyphs">Biomedical</text>
<text x="263" y="479" fill="#c8283c" textLength="91" lengthAdjust="spacingAndGlyphs">Health</text>
<text x="489" y="525" fill="#a99384" textLength="130" lengthAdjust="spacingAndGlyphs">Cognitive</text>
<text x="1018" y="513" fill="#3a3a3a" textLength="132" lengthAdjust="spacingAndGlyphs">Materials</text>
<text x="1383" y="517" fill="#1fb4dc" textLength="165" lengthAdjust="spacingAndGlyphs">Engineering</text>
<text x="964" y="627" fill="#e8308e" textLength="136" lengthAdjust="spacingAndGlyphs">Computer</text>
<text x="1238" y="687" fill="#6a3d9a" textLength="102" lengthAdjust="spacingAndGlyphs">Physics</text>
</g>
<g id="highlights">
<path d="M1197 413L1200 407L1213 402L1230 403L1238 408L1247 402L1273 395L1300 398L1327 412L1347 430L1349 447L1347 460L1333 473L1320 482L1318 490L1320 513L1310 527L1293 538L1273 543L1263 545L1260 557L1250 563L1237 563L1232 557L1227 547L1200 542L1180 533L1168 520L1166 503L1170 487L1180 477L1178 463L1180 457L1187 440L1198 425L1195 417Z" fill="#ff8000" stroke="#000" stroke-width="2.5" stroke-linejoin="round" filter="url(#bsh)"/>
<ellipse class="o" cx="1089" cy="234" rx="29" ry="22"/>
<ellipse class="o" cx="1160" cy="278" rx="14.5" ry="11"/>
<ellipse class="o" cx="1439" cy="492" rx="14.5" ry="11"/>
<ellipse class="o" cx="1375" cy="542" rx="7.5" ry="5.5"/>
<ellipse class="o" cx="1361" cy="563" rx="22" ry="16"/>
<ellipse class="o" cx="1385" cy="608" rx="28" ry="22"/>
<ellipse class="o" cx="1289" cy="624" rx="28" ry="22"/>
<ellipse class="o" cx="1337" cy="720" rx="28" ry="22"/>
<circle cx="402" cy="450" r="424" fill="none" stroke="#f5821f" stroke-width="1.8" stroke-dasharray="14 8"/>
</g>
<g id="frame">
<rect x="0" y="0" width="1596" height="10" fill="url(#tg)"/>
<rect x="0" y="0" width="12" height="828" fill="url(#lg)"/>
<rect x="0" y="826" width="1596" height="2" fill="#c06010"/>
</g>
</svg>
